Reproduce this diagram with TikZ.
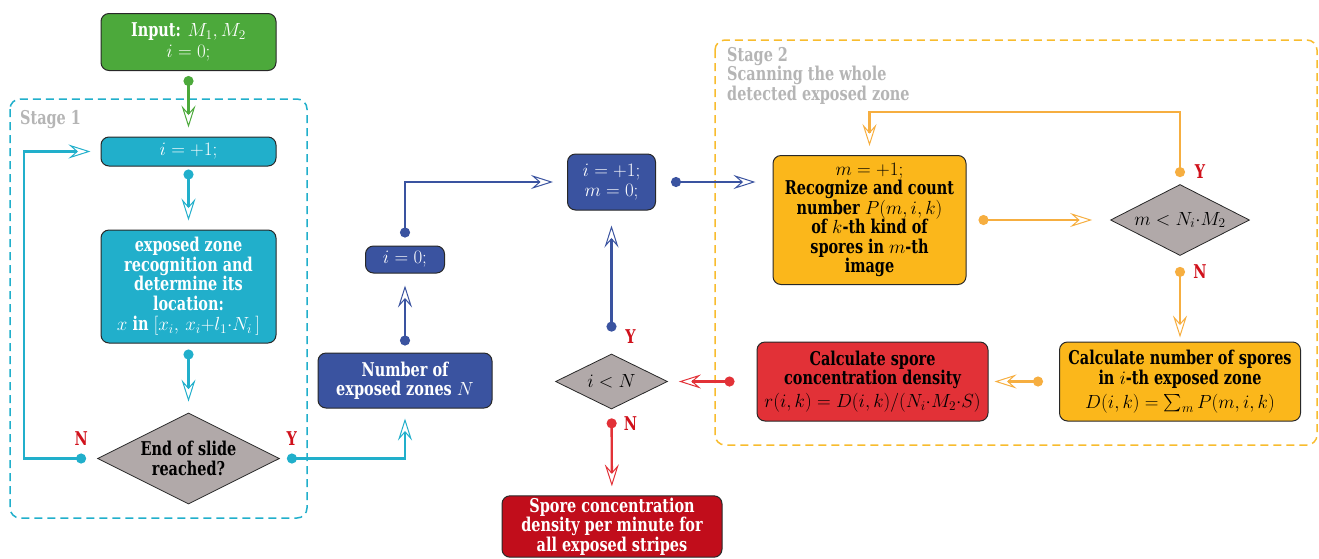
\RequirePackage{fix-cm}
\documentclass[tikz,border=0pt]{standalone}
\usepackage{amsmath}
\usepackage{fontspec}
\setmainfont{DejaVu Serif}[FakeStretch=0.76]
\usetikzlibrary{shapes.geometric}
\usetikzlibrary{arrows.meta}
\usetikzlibrary{positioning}

\begin{document}
\begin{tikzpicture}[x=1pt,y=-1pt,
	>={Stealth[open,length=22pt,width=14pt,inset=8pt,line width=1pt]},
	font=\fontsize{19}{19.5}\selectfont\bfseries,
	box/.style={rectangle,rounded corners=8pt,draw=rim,line width=1pt,align=center,inner sep=2pt},
	test/.style={diamond,draw=rim,line width=0.8pt,fill=stone,align=center,inner sep=0pt,aspect=2},
	flow/.style={arrows={Circle[length=10pt]->},line width=2.4pt},
	stage/.style={dash pattern=on 8pt off 5pt,line width=1.5pt,rounded corners=10pt},
	stagelabel/.style={text=fog,inner sep=0pt},
	yn/.style={text=signal,inner sep=0pt}]
	
	\definecolor{rim}{RGB}{40,40,40}
	\definecolor{leaf}{RGB}{76,169,59}
	\definecolor{sky}{RGB}{33,175,203}
	\definecolor{navy}{RGB}{58,83,160}
	\definecolor{stone}{RGB}{177,169,169}
	\definecolor{amber}{RGB}{246,174,64}
	\definecolor{gold}{RGB}{251,183,27}
	\definecolor{dashgold}{RGB}{248,188,46}
	\definecolor{scarlet}{RGB}{226,49,55}
	\definecolor{wine}{RGB}{193,13,27}
	\definecolor{signal}{RGB}{208,17,27}
	\definecolor{fog}{RGB}{181,181,181}
	
	\useasboundingbox (0,0) rectangle (1319,558);
	
	\draw[stage,draw=sky] (10,99) rectangle (307,518);
	\draw[stage,draw=dashgold] (715,40) rectangle (1317,445);
	\node[stagelabel,anchor=west] (stageone) at (20,120) {Stage 1};
	\node[stagelabel,anchor=north west,align=left] (stagetwo) at (727,47) {Stage 2\\Scanning the whole\\detected exposed zone};
	
	\node[box,fill=leaf,text=white,minimum width=175pt,minimum height=57pt] (input) at (188.5,42) {Input: $M_1, M_2$\\[1pt]$i=0;$};
	\node[box,fill=sky,text=white,minimum width=175pt,minimum height=29pt] (inc1) at (188.5,151.5) {$i=+1;$};
	\node[box,fill=sky,text=white,minimum width=175pt,minimum height=113pt] (zone) at (188.5,286.5) {exposed zone\\recognition and\\determine its\\location:\\[1pt]$x$ in $[x_i,\,x_i{+}l_1{\cdot}N_i\,]$};
	\node[test,minimum width=182pt,minimum height=91pt] (end) at (188.5,458.5) {End of slide\\reached?};
	\node[box,fill=navy,text=white,minimum width=174pt,minimum height=55pt] (count) at (405,380.5) {Number of\\exposed zones $N$};
	\node[box,fill=navy,text=white,minimum width=79pt,minimum height=27pt] (izero) at (405,259.5) {$i=0;$};
	\node[box,fill=navy,text=white,minimum width=88pt,minimum height=56pt] (initm) at (611.5,182) {$i=+1;$\\[1pt]$m=0;$};
	\node[test,minimum width=112pt,minimum height=55pt] (icheck) at (611.5,381.5) {$i<N$};
	\node[box,fill=wine,text=white,minimum width=220pt,minimum height=59pt] (result) at (612,526.5) {Spore concentration\\density per minute for\\all exposed stripes};
	\node[box,fill=gold,minimum width=193pt,minimum height=129pt] (recog) at (869.5,220) {$m=+1;$\\Recognize and count\\number $P(m,i,k)$\\of $k$-th kind of\\spores in $m$-th\\image};
	\node[test,minimum width=139pt,minimum height=71pt] (mcheck) at (1180,220) {$m<N_i{\cdot}M_2$};
	\node[box,fill=gold,minimum width=241pt,minimum height=79pt] (calcnum) at (1180,381.5) {Calculate number of spores\\[1pt]in $i$-th exposed zone\\[4pt]$D(i,k)=\textstyle\sum_m P(m,i,k)$};
	\node[box,fill=scarlet,minimum width=231pt,minimum height=79pt] (calcden) at (872.5,381.5) {Calculate spore\\concentration density\\[3pt]$r(i,k)=D(i,k)/(N_i{\cdot}M_2{\cdot}S)$};
	
	\node[yn] (endno) at ([xshift=-16pt,yshift=20pt]end.west) {N};
	\node[yn] (endyes) at ([xshift=12pt,yshift=20pt]end.east) {Y};
	\node[yn] (iyes) at ([xshift=19pt,yshift=17pt]icheck.north) {Y};
	\node[yn] (ino) at ([xshift=19pt,yshift=-14pt]icheck.south) {N};
	\node[yn] (myes) at ([xshift=20pt,yshift=12.5pt]mcheck.north) {Y};
	\node[yn] (mno) at ([xshift=20pt,yshift=-15.5pt]mcheck.south) {N};
	
	\draw[flow,draw=leaf,shorten <=5pt,shorten >=9pt] (input) -- (inc1);
	\draw[flow,draw=sky,shorten <=3pt,shorten >=9pt] (inc1) -- (zone);
	\draw[flow,draw=sky,shorten <=6pt,shorten >=11pt] (zone) -- (end);
	\draw[flow,draw=sky,shorten <=11pt,shorten >=10pt] (end.west) -- ++(-73,0) |- (inc1.west);
	\draw[flow,draw=sky,shorten <=7pt,shorten >=10pt] (end.east) -| (count.south);
	\draw[flow,draw=navy,shorten <=7pt,shorten >=12pt] (count) -- (izero);
	\draw[flow,draw=navy,shorten <=8pt,shorten >=14pt] (izero.north) |- (initm.west);
	\draw[flow,draw=navy,shorten <=15pt,shorten >=17pt] (initm.east) -- (initm.east -| recog.west);
	\draw[flow,draw=amber,shorten <=12pt,shorten >=18pt] (recog) -- (mcheck);
	\draw[flow,draw=amber,shorten <=7pt,shorten >=9pt] (mcheck.north) -- ++(0,-72) -| (recog.north);
	\draw[flow,draw=amber,shorten <=11pt,shorten >=4pt] (mcheck) -- (calcnum);
	\draw[flow,draw=amber,shorten <=16pt,shorten >=6pt] (calcnum) -- (calcden);
	\draw[flow,draw=scarlet,shorten <=22pt,shorten >=11pt] (calcden) -- (icheck);
	\draw[flow,draw=navy,shorten <=22pt,shorten >=15pt] (icheck) -- (initm);
	\draw[flow,draw=scarlet,shorten <=9pt,shorten >=9pt] (icheck) -- (result);
\end{tikzpicture}
\end{document}
